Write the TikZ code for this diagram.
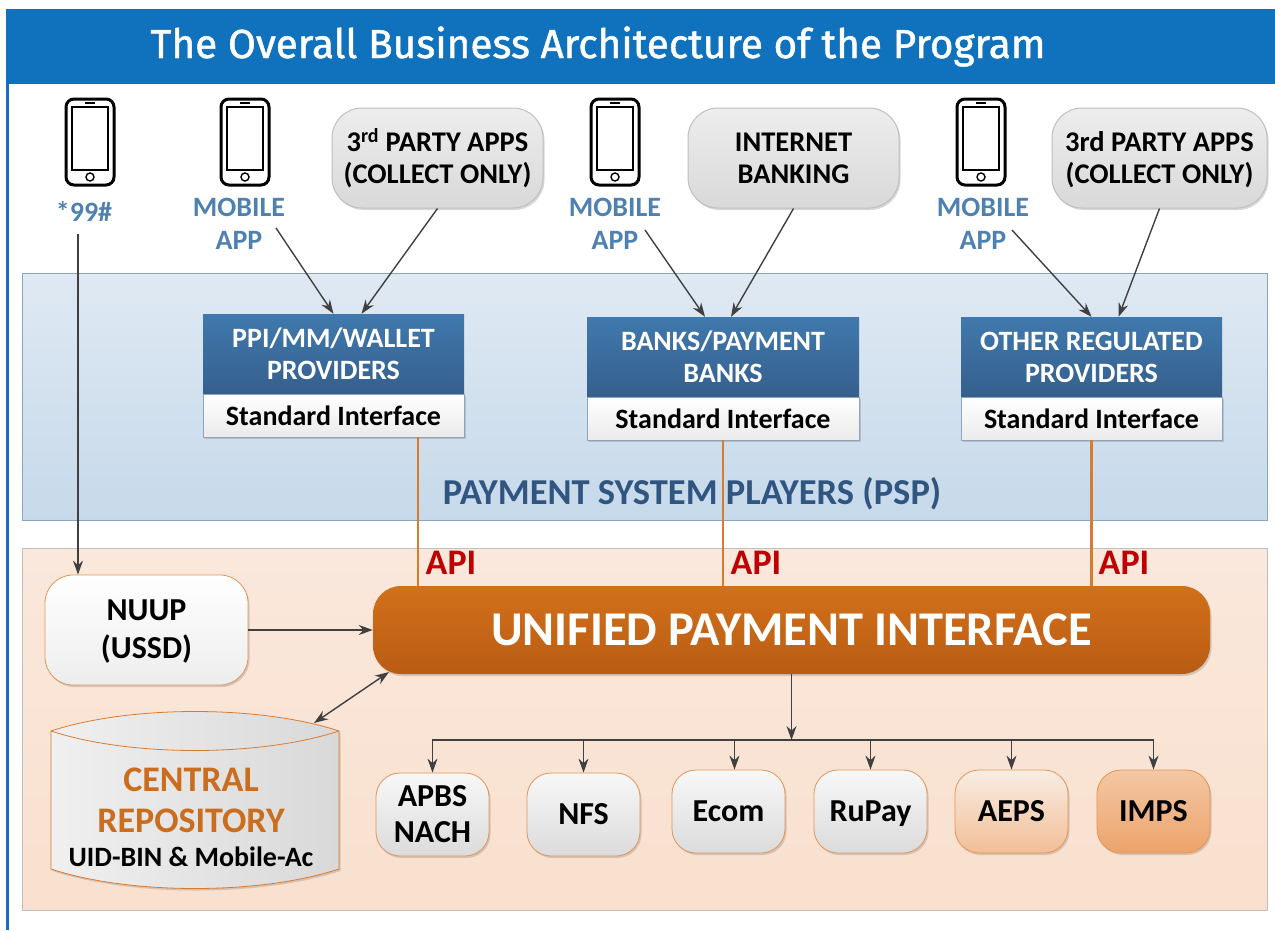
\documentclass[tikz,border=0pt]{standalone}
\usepackage{fontspec}
\setmainfont{Carlito}
\newfontfamily\titlefont[FakeBold=1.2]{Fira Sans}
\usetikzlibrary{arrows.meta,shadows}
\definecolor{titleblue}{HTML}{1072BD}
\definecolor{labelblue}{HTML}{4F81B0}
\definecolor{headtop}{HTML}{4079AD}
\definecolor{headbot}{HTML}{355F8D}
\definecolor{pspblue}{HTML}{2F5580}
\definecolor{psptop}{HTML}{DFE9F3}
\definecolor{pspbot}{HTML}{C6D9EA}
\definecolor{pspedge}{HTML}{8DA5BC}
\definecolor{peachtop}{HTML}{FAE8DC}
\definecolor{peachbot}{HTML}{F9E0CE}
\definecolor{upitop}{HTML}{D2701A}
\definecolor{upibot}{HTML}{B95C14}
\definecolor{orangeline}{HTML}{D97B2E}
\definecolor{orangetext}{HTML}{CB6D1E}
\definecolor{apired}{HTML}{C00000}
\definecolor{arrowgrey}{HTML}{404040}
\definecolor{aepstop}{HTML}{F8EDE3}
\definecolor{aepsbot}{HTML}{F2BE96}
\definecolor{impstop}{HTML}{F4C7A4}
\definecolor{impsbot}{HTML}{EDA36B}
\tikzset{
  softshadow/.style = {drop shadow={shadow xshift=1.5pt,shadow yshift=-2pt,opacity=.25,fill=black!60}},
  band/.style       = {rectangle,inner sep=0pt,minimum width=1245pt,draw=pspedge,line width=.8pt},
  appbox/.style     = {rectangle,rounded corners=30pt,inner sep=0pt,align=center,font=\fontsize{28.5}{32}\selectfont\bfseries,
                       minimum width=211pt,minimum height=100pt,draw=black!25,line width=1pt,top color=white!93!black,bottom color=white!85!black,softshadow},
  phonelabel/.style = {align=center,inner sep=0pt,text=labelblue,font=\fontsize{28}{33}\selectfont\bfseries},
  headbox/.style    = {rectangle,inner sep=0pt,align=center,text=white,font=\fontsize{28}{32}\selectfont\bfseries,
                       minimum height=80pt,top color=headtop,bottom color=headbot},
  facebox/.style    = {rectangle,inner sep=0pt,font=\fontsize{28}{30}\selectfont\bfseries,minimum height=43pt,
                       draw=pspedge,line width=.8pt,top color=white,bottom color=white!92!black,softshadow},
  apilabel/.style   = {inner sep=0pt,text=apired,font=\fontsize{36}{38}\selectfont\bfseries},
  railbox/.style    = {rectangle,rounded corners=24pt,inner sep=0pt,align=center,font=\fontsize{32}{36}\selectfont\bfseries,
                       minimum width=113pt,minimum height=83pt,draw=orangeline!80,line width=.8pt,top color=white!97!black,bottom color=white!86!black,softshadow},
  link/.style       = {draw=arrowgrey,line width=1.4pt,-{Stealth[length=14pt,width=10pt]}},
  apiline/.style    = {draw=orangeline,line width=2.5pt},
  pics/phone/.style = {code={
    \draw[line width=3pt,rounded corners=8pt] (-24,-43) rectangle (24,43);
    \draw[line width=1.4pt] (-18,-35) rectangle (18,28);
    \draw[line width=1.4pt] (0,35) circle (4);
    \draw[line width=1.4pt] (-5,-39) -- (5,-39);
  }},
}
\begin{document}
\begin{tikzpicture}
  [
    x = 1pt,
    y = -1pt
  ]
  \useasboundingbox (0,0) rectangle (1275,930);
  % title
  \fill[titleblue] (6,84) rectangle (9,930);
  \node [rectangle,fill=titleblue,inner sep=0pt,minimum width=1269pt,minimum height=75pt] (titlebar) at (640.5,46.5) {};
  \node [anchor=base,inner sep=0pt,text=white,font=\titlefont\fontsize{40.5}{46}\selectfont] (titletext) at (598,58) {The Overall Business Architecture of the Program};
  % bands
  \node [band,minimum height=247pt,top color=psptop,bottom color=pspbot] (pspband) at (644.5,396.5) {};
  \node [inner sep=0pt,text=pspblue,font=\fontsize{36.5}{40}\selectfont\bfseries] (psplabel) at (692,494) {PAYMENT SYSTEM PLAYERS (PSP)};
  \node [band,draw=black!25,minimum height=362pt,top color=peachtop,bottom color=peachbot] (upiband) at (644.5,729) {};
  % phones and their labels
  \pic at (90,142) {phone};
  \pic at (245,142) {phone};
  \pic at (615,142) {phone};
  \pic at (981,142) {phone};
  \node [phonelabel] (ussd) at (84,211) {*99\#};
  \node [phonelabel] (mobileA) at (239,224) {MOBILE\\APP};
  \node [phonelabel] (mobileB) at (615,224) {MOBILE\\APP};
  \node [phonelabel] (mobileC) at (983,224) {MOBILE\\APP};
  % top boxes
  \node [appbox] (partyA) at (437.5,158) {3\textsuperscript{rd} PARTY APPS\\(COLLECT ONLY)};
  \node [appbox] (netbank) at (793.5,158) {INTERNET\\BANKING};
  \node [appbox,minimum width=215pt] (partyC) at (1159.5,158) {\vphantom{\textsuperscript{rd}}3rd PARTY APPS\\(COLLECT ONLY)};
  % providers
  \node [headbox,minimum width=261pt] (ppihead) at (333.5,354) {PPI/MM/WALLET\\PROVIDERS};
  \node [facebox,minimum width=261pt] (ppiface) at (333.5,415.5) {Standard Interface};
  \node [headbox,minimum width=272pt] (bankhead) at (723,357) {BANKS/PAYMENT\\BANKS};
  \node [facebox,minimum width=272pt] (bankface) at (723,418.5) {Standard Interface};
  \node [headbox,minimum width=261pt] (otherhead) at (1091.5,357) {OTHER REGULATED\\PROVIDERS};
  \node [facebox,minimum width=261pt] (otherface) at (1091.5,418.5) {Standard Interface};
  % unified interface
  \node [rectangle,rounded corners=28pt,inner sep=0pt,minimum width=837pt,minimum height=88pt,text=white,
         font=\fontsize{48.5}{52}\selectfont\bfseries,top color=upitop,bottom color=upibot,softshadow] (upi) at (791.5,630) {UNIFIED PAYMENT INTERFACE};
  \node [rectangle,rounded corners=28pt,inner sep=0pt,align=center,minimum width=203pt,minimum height=110pt,
         font=\fontsize{32}{38}\selectfont\bfseries,draw=orangeline!80,line width=.8pt,top color=white,bottom color=white!93!black,softshadow] (nuup) at (146.5,630) {\vphantom{(}NUUP\\(USSD)};
  \node [apilabel] (apiA) at (451,563) {API};
  \node [apilabel] (apiB) at (756,563) {API};
  \node [apilabel] (apiC) at (1124,563) {API};
  % repository
  \path [draw=orangeline,line width=.8pt,left color=white!94!black,right color=white!85!black,softshadow]
    (51,731) .. controls (130,705) and (260,705) .. (339,731) -- (339,869)
    .. controls (260,895) and (130,895) .. (51,869) -- cycle;
  \draw [orangeline,line width=.8pt] (51,731) .. controls (130,757) and (260,757) .. (339,731);
  \node [inner sep=0pt,align=center,text=orangetext,font=\fontsize{36}{41}\selectfont\bfseries] (repo) at (191,800) {CENTRAL\\REPOSITORY};
  \node [inner sep=0pt,font=\fontsize{28}{30}\selectfont\bfseries] (repodetail) at (191,857) {UID-BIN \& Mobile-Ac};
  % rails
  \node [railbox] (apbs) at (432.5,814.5) {APBS\\NACH};
  \node [railbox] (nfs) at (583.5,814.5) {NFS};
  \node [railbox] (ecom) at (728.5,811.5) {Ecom};
  \node [railbox,align=none,text depth=0pt] (rupay) at (870.5,811.5) {RuPay};
  \node [railbox,top color=aepstop,bottom color=aepsbot] (aeps) at (1011.5,811.5) {AEPS};
  \node [railbox,top color=impstop,bottom color=impsbot] (imps) at (1153.5,811.5) {IMPS};
  % free ends
  \coordinate (ussdstart) at (78,234);
  \coordinate (mobileAend) at (276,228);
  \coordinate (mobileBend) at (645,230);
  \coordinate (mobileCend) at (1012,230);
  \coordinate (repotop) at (314,723);
  \coordinate (upicorner) at (389,672);
  \coordinate (busmid) at (791.5,740);
  % connectors
  \draw [link] (ussdstart) -- (ussdstart |- nuup.north);
  \draw [link] (mobileAend) -- (ppihead.north);
  \draw [link] (partyA.south) -- ([xshift=28pt]ppihead.north);
  \draw [link] (mobileBend) -- ([xshift=-18pt]bankhead.north);
  \draw [link] (netbank.south) -- ([xshift=8pt]bankhead.north);
  \draw [link] (mobileCend) -- (otherhead.north);
  \draw [link] (partyC.south) -- ([xshift=27pt]otherhead.north);
  \draw [link] (nuup.east) -- (upi.west);
  \draw [link,{Stealth[length=14pt,width=10pt]}-{Stealth[length=14pt,width=10pt]}] (repotop) -- (upicorner);
  \draw [link] (upi.south) -- (busmid);
  \draw [link] (busmid) -| (apbs.north);
  \draw [link] (busmid) -| (nfs.north);
  \draw [link] (busmid) -| ([xshift=6pt]ecom.north);
  \draw [link] (busmid) -| (rupay.north);
  \draw [link] (busmid) -| (aeps.north);
  \draw [link] (busmid) -| (imps.north);
  \draw [apiline] ([xshift=84.5pt]ppiface.south) -- ([xshift=84.5pt]ppiface.south |- upi.north);
  \draw [apiline] (bankface.south) -- (bankface.south |- upi.north);
  \draw [apiline] (otherface.south) -- (otherface.south |- upi.north);
\end{tikzpicture}
\end{document}
